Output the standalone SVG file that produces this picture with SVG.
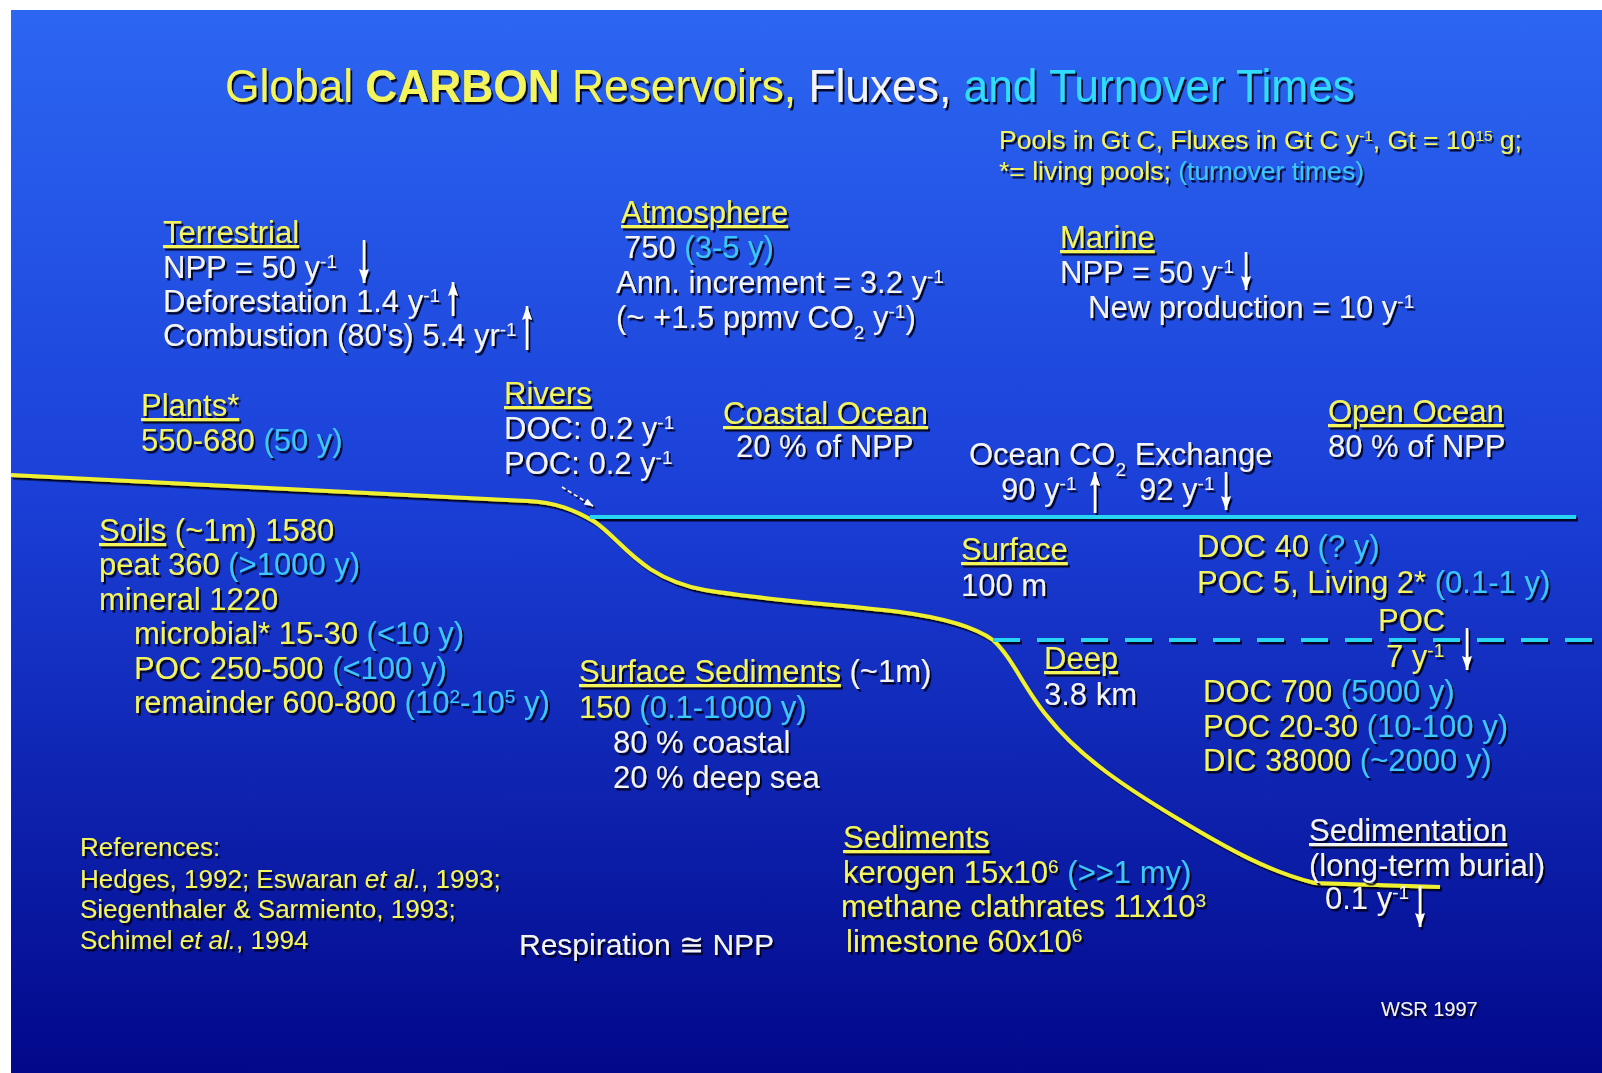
<svg xmlns="http://www.w3.org/2000/svg" width="1602" height="1073" viewBox="0 0 1602 1073">
<defs>
<linearGradient id="bg" x1="0" y1="0" x2="0" y2="1">
<stop offset="0" stop-color="#2c66f2"/>
<stop offset="0.45" stop-color="#1b40d8"/>
<stop offset="1" stop-color="#02088a"/>
</linearGradient>
<filter id="sh" x="-5%" y="-20%" width="110%" height="140%">
<feDropShadow dx="2" dy="2.5" stdDeviation="0.7" flood-color="#000018" flood-opacity="0.9"/>
</filter>
<marker id="ah" viewBox="0 0 14 12" refX="14" refY="6" markerWidth="14" markerHeight="12" markerUnits="userSpaceOnUse" orient="auto">
<path d="M0,1 L14,6 L0,11 L2,6 z" fill="#ffffff"/>
</marker>
<marker id="ahs" viewBox="0 0 10 8" refX="10" refY="4" markerWidth="9" markerHeight="7" markerUnits="userSpaceOnUse" orient="auto">
<path d="M0,0 L10,4 L0,8 z" fill="#ffffff"/>
</marker>
<style>
text{font-family:"Liberation Sans",Arial,sans-serif;font-size:31px;fill:#f4f4f4}
.y{fill:#f4f45c}
.c{fill:#3cc6ff}
.w{fill:#f4f4f4}
.u{text-decoration:underline}
.s{font-size:19px}
.ref{font-size:26px}
.ttl{font-size:47px}
.leg{font-size:26px}
.resp{font-size:30px}
.cr{font-size:20px}
.flux{stroke:#ffffff;stroke-width:2.6;fill:none;marker-end:url(#ah)}
</style>
</defs>
<rect x="0" y="0" width="1602" height="1073" fill="#ffffff"/>
<rect x="11" y="10" width="1591" height="1063" fill="url(#bg)"/>

<g id="connectors" filter="url(#sh)">
<path id="seafloor" d="M11,475 L528,501 C555,502 575,510 595,522 C622,540 640,578 705,590 C765,600 840,605 900,612 C945,618 975,627 993,640 C1012,657 1025,690 1047,716 C1080,758 1130,790 1180,820 C1230,850 1270,872 1315,883 L1440,887" fill="none" stroke="#f0f032" stroke-width="4"/>
<line id="surface-line" x1="590" y1="517" x2="1576" y2="517" stroke="#28d6f4" stroke-width="4"/>
<line id="deep-line" x1="993" y1="640" x2="1600" y2="640" stroke="#28d6f4" stroke-width="4" stroke-dasharray="27 17"/>
<line class="flux" x1="364" y1="240" x2="364" y2="283"/>
<line class="flux" x1="453" y1="316" x2="453" y2="282"/>
<line class="flux" x1="527" y1="350" x2="527" y2="306"/>
<line class="flux" x1="1246" y1="252" x2="1246" y2="290"/>
<line class="flux" x1="1095" y1="513" x2="1095" y2="472"/>
<line class="flux" x1="1226" y1="472" x2="1226" y2="510"/>
<line class="flux" x1="1467" y1="628" x2="1467" y2="670"/>
<line class="flux" x1="1420" y1="886" x2="1420" y2="927"/>
<line x1="562" y1="487" x2="593" y2="506" stroke="#ffffff" stroke-width="1.6" stroke-dasharray="4 3" marker-end="url(#ahs)"/>
</g>

<g filter="url(#sh)">
<g id="title">
<text class="ttl" x="225" y="102" textLength="1130" lengthAdjust="spacingAndGlyphs"><tspan class="y">Global </tspan><tspan class="y" font-weight="bold">CARBON</tspan><tspan class="y"> Reservoirs,</tspan><tspan class="w"> Fluxes,</tspan><tspan fill="#30dcff"> and Turnover Times</tspan></text>
</g>
<g id="legend">
<text class="y leg" x="999" y="149" textLength="523" lengthAdjust="spacingAndGlyphs">Pools in Gt C, Fluxes in Gt C y<tspan font-size="15" baseline-shift="super">-1</tspan>, Gt = 10<tspan font-size="15" baseline-shift="super">15</tspan> g;</text>
<text class="leg" x="999" y="180" textLength="365" lengthAdjust="spacingAndGlyphs"><tspan class="y">*= living pools; </tspan><tspan class="c">(turnover times)</tspan></text>
</g>
<g id="terrestrial">
<text class="y u" x="163" y="243">Terrestrial</text>
<text x="163" y="278">NPP = 50 y<tspan class="s" baseline-shift="super">-1</tspan></text>
<text x="163" y="312">Deforestation 1.4 y<tspan class="s" baseline-shift="super">-1</tspan></text>
<text x="163" y="346">Combustion (80's) 5.4 yr<tspan class="s" baseline-shift="super">-1</tspan></text>
</g>
<g id="atmosphere">
<text class="y u" x="621" y="223">Atmosphere</text>
<text x="624" y="258">750 <tspan class="c">(3-5 y)</tspan></text>
<text x="616" y="293">Ann. increment = 3.2 y<tspan class="s" baseline-shift="super">-1</tspan></text>
<text x="616" y="328">(~ +1.5 ppmv CO<tspan class="s" baseline-shift="sub">2</tspan> y<tspan class="s" baseline-shift="super">-1</tspan>)</text>
</g>
<g id="marine">
<text class="y u" x="1060" y="248">Marine</text>
<text x="1060" y="283">NPP = 50 y<tspan class="s" baseline-shift="super">-1</tspan></text>
<text x="1088" y="318">New production = 10 y<tspan class="s" baseline-shift="super">-1</tspan></text>
</g>
<g id="plants">
<text class="y u" x="141" y="416">Plants*</text>
<text class="y" x="141" y="451">550-680 <tspan class="c">(50 y)</tspan></text>
</g>
<g id="rivers">
<text class="y u" x="504" y="404">Rivers</text>
<text x="504" y="439">DOC: 0.2 y<tspan class="s" baseline-shift="super">-1</tspan></text>
<text x="504" y="474">POC: 0.2 y<tspan class="s" baseline-shift="super">-1</tspan></text>
</g>
<g id="coastal-ocean">
<text class="y u" x="723" y="424">Coastal Ocean</text>
<text x="736" y="457">20 % of NPP</text>
</g>
<g id="ocean-exchange">
<text x="969" y="465">Ocean CO<tspan class="s" baseline-shift="sub">2</tspan> Exchange</text>
<text x="1001" y="500">90 y<tspan class="s" baseline-shift="super">-1</tspan></text>
<text x="1139" y="500">92 y<tspan class="s" baseline-shift="super">-1</tspan></text>
</g>
<g id="open-ocean">
<text class="y u" x="1328" y="422">Open Ocean</text>
<text x="1328" y="457">80 % of NPP</text>
</g>
<g id="soils">
<text class="y" x="99" y="541"><tspan class="u">Soils</tspan> (~1m) 1580</text>
<text class="y" x="99" y="575">peat 360 <tspan class="c">(&gt;1000 y)</tspan></text>
<text class="y" x="99" y="610">mineral 1220</text>
<text class="y" x="134" y="644">microbial* 15-30 <tspan class="c">(&lt;10 y)</tspan></text>
<text class="y" x="134" y="679">POC 250-500 <tspan class="c">(&lt;100 y)</tspan></text>
<text class="y" x="134" y="713">remainder 600-800 <tspan class="c">(10<tspan class="s" baseline-shift="super">2</tspan>-10<tspan class="s" baseline-shift="super">5</tspan> y)</tspan></text>
</g>
<g id="surface">
<text class="y u" x="961" y="560">Surface</text>
<text x="961" y="596">100 m</text>
</g>
<g id="surface-pools">
<text class="y" x="1197" y="557">DOC 40 <tspan class="c">(? y)</tspan></text>
<text class="y" x="1197" y="593">POC 5, Living 2*  <tspan class="c">(0.1-1 y)</tspan></text>
</g>
<g id="poc-flux">
<text class="y" x="1378" y="631">POC</text>
<text class="y" x="1386" y="667">7 y<tspan class="s" baseline-shift="super">-1</tspan></text>
</g>
<g id="deep">
<text class="y u" x="1044" y="669">Deep</text>
<text x="1044" y="705">3.8 km</text>
</g>
<g id="deep-pools">
<text class="y" x="1203" y="702">DOC 700 <tspan class="c">(5000 y)</tspan></text>
<text class="y" x="1203" y="737">POC 20-30 <tspan class="c">(10-100 y)</tspan></text>
<text class="y" x="1203" y="771">DIC 38000 <tspan class="c">(~2000 y)</tspan></text>
</g>
<g id="surface-sediments">
<text x="579" y="682"><tspan class="y u">Surface Sediments</tspan> (~1m)</text>
<text class="y" x="579" y="718">150 <tspan class="c">(0.1-1000 y)</tspan></text>
<text x="613" y="753">80 % coastal</text>
<text x="613" y="788">20 % deep sea</text>
</g>
<g id="sediments">
<text class="y u" x="843" y="848">Sediments</text>
<text class="y" x="843" y="883">kerogen 15x10<tspan class="s" baseline-shift="super">6</tspan>  <tspan class="c">(&gt;&gt;1 my)</tspan></text>
<text class="y" x="841" y="917">methane clathrates 11x10<tspan class="s" baseline-shift="super">3</tspan></text>
<text class="y" x="846" y="952">limestone 60x10<tspan class="s" baseline-shift="super">6</tspan></text>
</g>
<g id="sedimentation">
<text class="u" x="1309" y="841">Sedimentation</text>
<text x="1309" y="876">(long-term burial)</text>
<text x="1325" y="909">0.1 y<tspan class="s" baseline-shift="super">-1</tspan></text>
</g>
<g id="references">
<text class="y ref" x="80" y="856">References:</text>
<text class="y ref" x="80" y="888">Hedges, 1992; Eswaran <tspan font-style="italic">et al.</tspan>, 1993;</text>
<text class="y ref" x="80" y="918">Siegenthaler &amp; Sarmiento, 1993;</text>
<text class="y ref" x="80" y="949">Schimel <tspan font-style="italic">et al.</tspan>, 1994</text>
</g>
<g id="respiration">
<text class="resp" x="519" y="955">Respiration ≅ NPP</text>
</g>
<g id="credit">
<text class="cr" x="1381" y="1016">WSR 1997</text>
</g>
</g>
</svg>
